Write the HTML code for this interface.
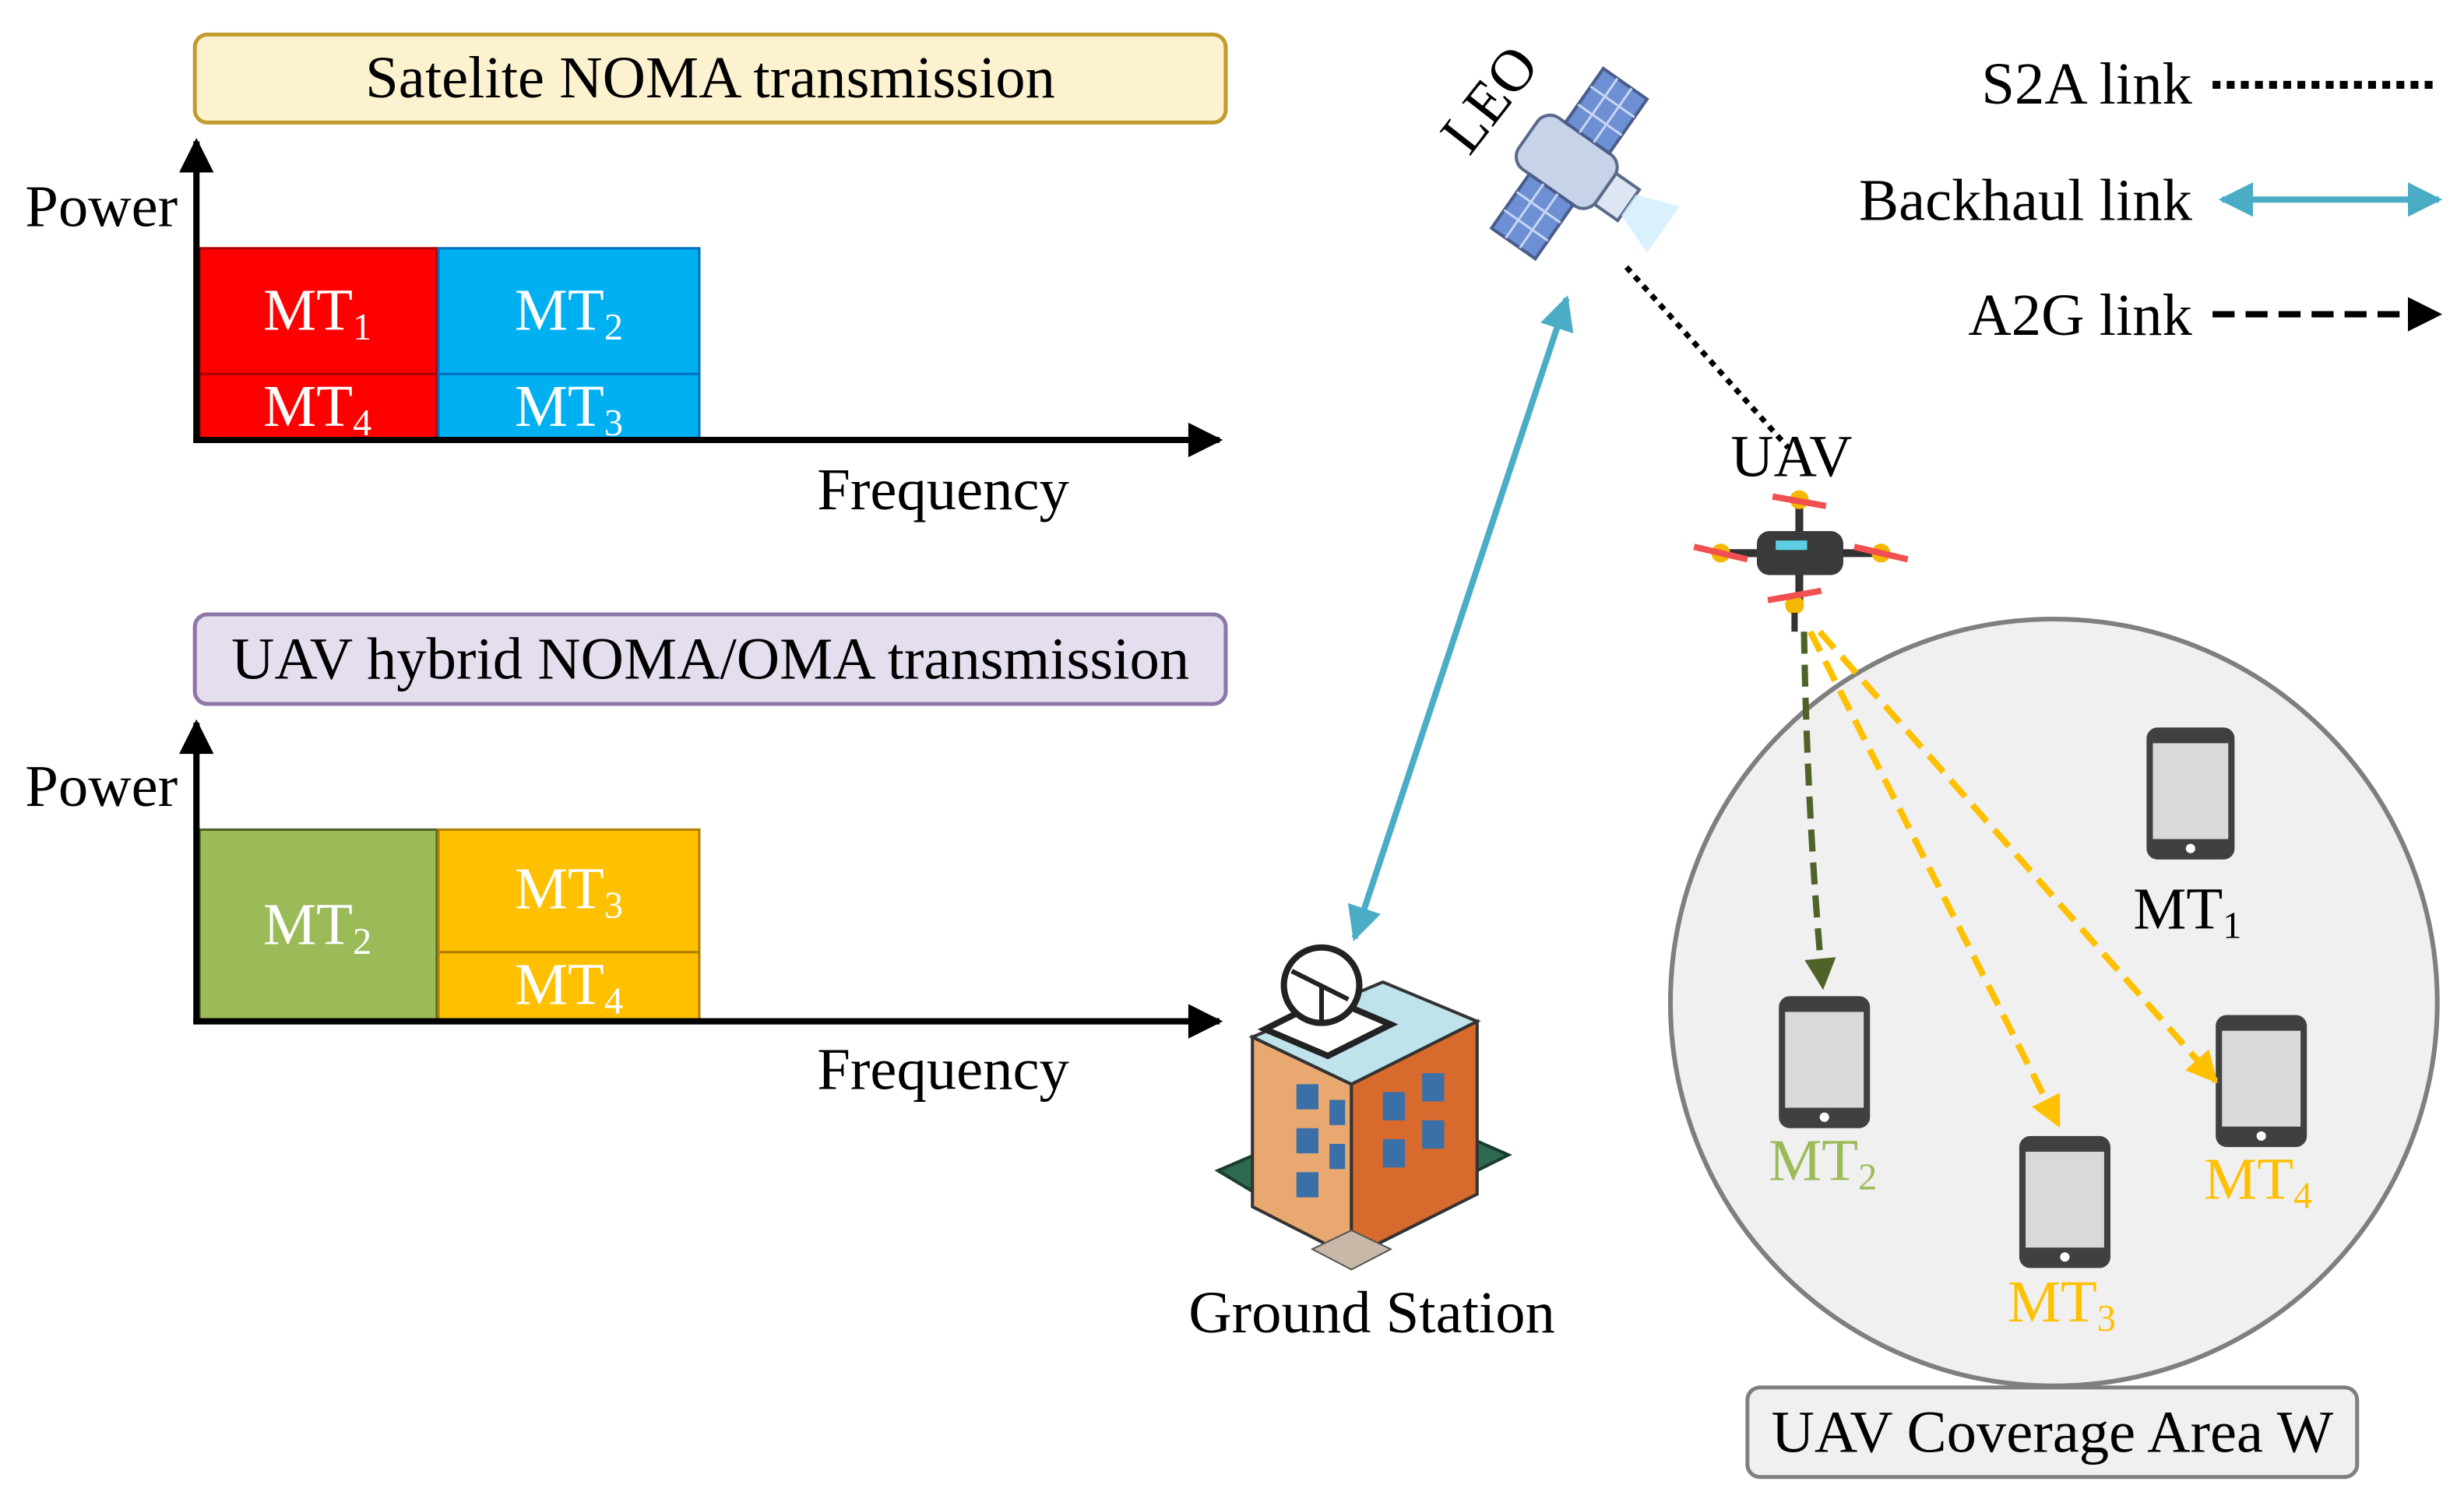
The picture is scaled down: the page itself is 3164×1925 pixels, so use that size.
<!DOCTYPE html>
<html><head><meta charset="utf-8"><style>
html,body{margin:0;padding:0;background:#fff;}
svg{display:block;}
text{font-family:"Liberation Serif",serif;}
</style></head><body>
<svg width="3164" height="1925" viewBox="0 0 1568 954" preserveAspectRatio="none" xmlns="http://www.w3.org/2000/svg">
<defs>
<marker id="axh" viewBox="0 0 10 10" markerWidth="26" markerHeight="22" refX="9" refY="5" orient="auto" markerUnits="userSpaceOnUse"><path d="M0,0 L10,5 L0,10 z" fill="#000"/></marker>
<marker id="bl" viewBox="0 0 10 10" markerWidth="22" markerHeight="22" refX="9" refY="5" orient="auto-start-reverse" markerUnits="userSpaceOnUse"><path d="M0,0 L10,5 L0,10 z" fill="#4bacc6"/></marker>
<marker id="gr" viewBox="0 0 10 10" markerWidth="20" markerHeight="20" refX="9" refY="5" orient="auto" markerUnits="userSpaceOnUse"><path d="M0,0 L10,5 L0,10 z" fill="#4f6228"/></marker>
<marker id="ye" viewBox="0 0 10 10" markerWidth="20" markerHeight="20" refX="9" refY="5" orient="auto" markerUnits="userSpaceOnUse"><path d="M0,0 L10,5 L0,10 z" fill="#ffc000"/></marker>
<marker id="bk" viewBox="0 0 10 10" markerWidth="22" markerHeight="22" refX="9" refY="5" orient="auto" markerUnits="userSpaceOnUse"><path d="M0,0 L10,5 L0,10 z" fill="#000"/></marker>
</defs>

<rect x="124" y="22" width="656" height="56" rx="8" fill="#fdf2cf" stroke="#c29c2e" stroke-width="2.5"/>
<text x="452" y="62" font-size="38" text-anchor="middle">Satelite NOMA transmission</text>
<text x="16" y="144" font-size="38">Power</text>
<rect x="127" y="158" width="151" height="80" fill="#ff0000" stroke="#a00" stroke-width="1.5"/>
<rect x="127" y="238" width="151" height="42" fill="#ff0000" stroke="#a00" stroke-width="1.5"/>
<rect x="279" y="158" width="166" height="80" fill="#00b0f0" stroke="#0070c0" stroke-width="1.5"/>
<rect x="279" y="238" width="166" height="42" fill="#00b0f0" stroke="#0070c0" stroke-width="1.5"/>
<g fill="#fff" font-size="38" text-anchor="middle">
<text x="202" y="210">MT<tspan font-size="24" dy="6">1</tspan></text>
<text x="202" y="271">MT<tspan font-size="24" dy="6">4</tspan></text>
<text x="362" y="210">MT<tspan font-size="24" dy="6">2</tspan></text>
<text x="362" y="271">MT<tspan font-size="24" dy="6">3</tspan></text>
</g>
<line x1="125" y1="281" x2="125" y2="90" stroke="#000" stroke-width="4" marker-end="url(#axh)"/>
<line x1="123" y1="280" x2="776" y2="280" stroke="#000" stroke-width="4" marker-end="url(#axh)"/>
<text x="520" y="324" font-size="38">Frequency</text>

<rect x="124" y="391" width="656" height="57" rx="8" fill="#e5deef" stroke="#8e76a8" stroke-width="2.5"/>
<text x="452" y="432" font-size="38" text-anchor="middle">UAV hybrid NOMA/OMA transmission</text>
<text x="16" y="513" font-size="38">Power</text>
<rect x="127" y="528" width="151" height="122" fill="#9bbb59" stroke="#4f6228" stroke-width="1.5"/>
<rect x="279" y="528" width="166" height="78" fill="#ffc000" stroke="#b08000" stroke-width="1.5"/>
<rect x="279" y="606" width="166" height="44" fill="#ffc000" stroke="#b08000" stroke-width="1.5"/>
<g fill="#fff" font-size="38" text-anchor="middle">
<text x="202" y="601">MT<tspan font-size="24" dy="6">2</tspan></text>
<text x="362" y="578">MT<tspan font-size="24" dy="6">3</tspan></text>
<text x="362" y="639">MT<tspan font-size="24" dy="6">4</tspan></text>
</g>
<line x1="125" y1="651" x2="125" y2="460" stroke="#000" stroke-width="4" marker-end="url(#axh)"/>
<line x1="123" y1="650" x2="776" y2="650" stroke="#000" stroke-width="4" marker-end="url(#axh)"/>
<text x="520" y="693" font-size="38">Frequency</text>

<g font-size="38" text-anchor="end">
<text x="1395" y="66">S2A link</text>
<text x="1395" y="140">Backhaul link</text>
<text x="1395" y="213">A2G link</text>
</g>
<line x1="1408" y1="54" x2="1552" y2="54" stroke="#000" stroke-width="5" stroke-dasharray="5,4"/>
<line x1="1414" y1="127" x2="1552" y2="127" stroke="#4bacc6" stroke-width="4" marker-start="url(#bl)" marker-end="url(#bl)"/>
<line x1="1408" y1="200" x2="1552" y2="200" stroke="#000" stroke-width="4" stroke-dasharray="14,7" marker-end="url(#bk)"/>

<g transform="translate(997,103) rotate(35)">
<rect x="-30" y="-20" width="60" height="40" rx="10" fill="#c7d3e8" stroke="#5a6a8a" stroke-width="2"/>
<rect x="30" y="-12" width="18" height="24" fill="#dde6f2" stroke="#5a6a8a" stroke-width="2"/>
<rect x="-15" y="-62" width="34" height="42" fill="#6d8fd4" stroke="#4a5c8a" stroke-width="2"/>
<rect x="-15" y="20" width="34" height="42" fill="#6d8fd4" stroke="#4a5c8a" stroke-width="2"/>
<path d="M-15,-48 h34 M-15,-34 h34 M-4,-62 v42 M7,-62 v42 M-15,34 h34 M-15,48 h34 M-4,20 v42 M7,20 v42" stroke="#c8d6f2" stroke-width="1.5"/>
<path d="M48,-8 L75,-18 L75,18 L48,8 z" fill="#cfeefb" opacity="0.8"/>
</g>
<text x="0" y="0" font-size="38" transform="translate(935,100) rotate(-52)">LEO</text>

<line x1="1035" y1="170" x2="1138" y2="285" stroke="#000" stroke-width="3.5" stroke-dasharray="4,4"/>
<line x1="997" y1="190" x2="862" y2="597" stroke="#4bacc6" stroke-width="4" marker-start="url(#bl)" marker-end="url(#bl)"/>

<text x="1140" y="303" font-size="38" text-anchor="middle">UAV</text>
<g>
<line x1="1095" y1="352" x2="1197" y2="352" stroke="#333" stroke-width="5"/>
<line x1="1145" y1="318" x2="1145" y2="385" stroke="#333" stroke-width="5"/>
<rect x="1118" y="338" width="55" height="28" rx="8" fill="#3a3a3a"/>
<rect x="1130" y="344" width="20" height="6" fill="#5ccfe6"/>
<circle cx="1095" cy="352" r="6" fill="#f5b800"/><circle cx="1197" cy="352" r="6" fill="#f5b800"/>
<circle cx="1145" cy="318" r="6" fill="#f5b800"/><circle cx="1142" cy="385" r="6" fill="#f5b800"/>
<path d="M1078,348 l34,8 M1180,348 l34,8 M1128,316 l34,6 M1125,382 l34,-6" stroke="#f05050" stroke-width="4"/>
<line x1="1142" y1="390" x2="1142" y2="402" stroke="#333" stroke-width="4"/>
</g>

<circle cx="1307" cy="638" r="244" fill="#f0f0f0" stroke="#7f7f7f" stroke-width="3"/>

<g fill="#d9d9d9" stroke="#404040" stroke-width="4">
<rect x="1368" y="465" width="52" height="80" rx="5"/>
<rect x="1134" y="636" width="54" height="80" rx="5"/>
<rect x="1287" y="725" width="54" height="80" rx="5"/>
<rect x="1412" y="648" width="54" height="80" rx="5"/>
</g>
<g fill="#404040">
<rect x="1368" y="465" width="52" height="8"/><rect x="1368" y="534" width="52" height="11"/>
<rect x="1134" y="636" width="54" height="8"/><rect x="1134" y="705" width="54" height="11"/>
<rect x="1287" y="725" width="54" height="8"/><rect x="1287" y="794" width="54" height="11"/>
<rect x="1412" y="648" width="54" height="8"/><rect x="1412" y="717" width="54" height="11"/>
</g>
<g fill="#fff"><circle cx="1394" cy="540" r="3"/><circle cx="1161" cy="711" r="3"/><circle cx="1314" cy="800" r="3"/><circle cx="1439" cy="723" r="3"/></g>

<path d="M1148,402 Q1150,520 1160,628" fill="none" stroke="#4f6228" stroke-width="4" stroke-dasharray="14,7" marker-end="url(#gr)"/>
<line x1="1152" y1="402" x2="1310" y2="716" stroke="#ffc000" stroke-width="4" stroke-dasharray="14,7" marker-end="url(#ye)"/>
<line x1="1158" y1="402" x2="1410" y2="688" stroke="#ffc000" stroke-width="4" stroke-dasharray="14,7" marker-end="url(#ye)"/>

<g font-size="38" text-anchor="middle">
<text x="1392" y="591">MT<tspan font-size="24" dy="6">1</tspan></text>
<text x="1160" y="751" fill="#9bbb59">MT<tspan font-size="24" dy="6">2</tspan></text>
<text x="1312" y="841" fill="#ffc000">MT<tspan font-size="24" dy="6">3</tspan></text>
<text x="1437" y="763" fill="#ffc000">MT<tspan font-size="24" dy="6">4</tspan></text>
</g>

<rect x="1112" y="883" width="388" height="57" rx="8" fill="#f0f0f0" stroke="#7f7f7f" stroke-width="2.5"/>
<text x="1306" y="924" font-size="38" text-anchor="middle">UAV Coverage Area W</text>

<g>
<path d="M775,745 L850,790 L960,735 L880,700 z" fill="#2d6a4f" stroke="#1b3d2e" stroke-width="2"/>
<path d="M797,660 L860,690 L860,800 L797,768 z" fill="#e8a870" stroke="#333" stroke-width="2"/>
<path d="M860,690 L940,650 L940,760 L860,800 z" fill="#d86a2e" stroke="#333" stroke-width="2"/>
<path d="M797,660 L860,690 L940,650 L880,625 z" fill="#bfe3ea" stroke="#333" stroke-width="2"/>
<path d="M805,655 L845,672 L885,652 L845,635 z" fill="#fff" stroke="#222" stroke-width="4"/>
<g fill="#3a6fa8">
<rect x="825" y="690" width="14" height="16"/><rect x="825" y="718" width="14" height="16"/><rect x="825" y="746" width="14" height="16"/>
<rect x="846" y="700" width="10" height="16"/><rect x="846" y="728" width="10" height="16"/>
<rect x="880" y="695" width="14" height="18"/><rect x="905" y="683" width="14" height="18"/>
<rect x="880" y="725" width="14" height="18"/><rect x="905" y="713" width="14" height="18"/>
</g>
<path d="M835,795 L860,808 L885,795 L860,783 z" fill="#c8b8a8" stroke="#555"/>
<circle cx="841" cy="627" r="24" fill="#fff" stroke="#222" stroke-width="4"/>
<path d="M822,618 L858,636 M841,627 L841,652" stroke="#222" stroke-width="3"/>
</g>
<text x="873" y="848" font-size="38" text-anchor="middle">Ground Station</text>
</svg>
</body></html>
